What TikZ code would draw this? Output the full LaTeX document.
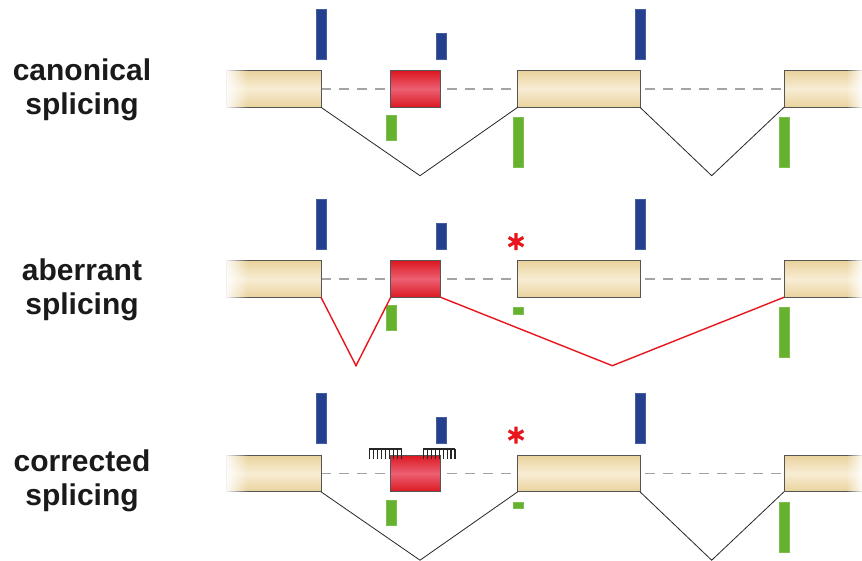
\documentclass[tikz,border=0pt]{standalone}
\usepackage{fontspec}
\setmainfont{Liberation Sans}
\usetikzlibrary{positioning}
\usetikzlibrary{fadings}
\usetikzlibrary{backgrounds}

\definecolor{exontan}{HTML}{E9D29D}
\definecolor{exonlight}{HTML}{F8EDD4}
\definecolor{boxline}{HTML}{555555}
\definecolor{cryptred}{HTML}{DC1822}
\definecolor{cryptpink}{HTML}{EC6072}
\definecolor{donorblue}{HTML}{25408F}
\definecolor{acceptgreen}{HTML}{66B22E}
\definecolor{splicered}{HTML}{E8161C}
\definecolor{introngrey}{HTML}{A3A3A3}
\definecolor{labeltext}{HTML}{1A1A1A}

\tikzfading[name=fadeoutleft, left color=transparent!0, right color=transparent!100]
\tikzfading[name=fadeoutright, left color=transparent!100, right color=transparent!0]

\tikzset{
	exon/.style={draw=boxline, line width=0.8pt, minimum height=36.6pt, inner sep=0pt, outer sep=0pt,
		top color=exontan, bottom color=exontan, middle color=exonlight},
	crypt/.style={exon, minimum width=50pt, top color=cryptred, bottom color=cryptred, middle color=cryptpink},
	donor/.style={fill=donorblue, draw=donorblue!85!white, line width=0.4pt, minimum width=10pt, inner sep=0pt},
	acceptor/.style={fill=acceptgreen, draw=acceptgreen!85!white, line width=0.4pt, minimum width=10pt, inner sep=0pt},
	intron/.style={introngrey, line width=1.2pt, dash pattern=on 10pt off 8pt},
	splice/.style={black!85, line width=0.8pt},
	aberrant/.style={splicered, line width=1.4pt},
	mutation/.style={splicered, line width=3.2pt},
	oligo/.style={black!85, line width=1.1pt},
	rowlabel/.style={align=center, text=labeltext, font=\fontsize{30}{34}\selectfont\bfseries}
}

\begin{document}
\begin{tikzpicture}[x=1pt, y=-1pt]
	\useasboundingbox (0,0) rectangle (862,561);
	\begin{scope}[on background layer]
		\fill[white] (0,0) rectangle (862,561);
	\end{scope}

	% three copies of the same gene
	\foreach \row/\dy/\gh in {A/0/50, B/190/6.5, C/384.5/6.5} {
		\node[exon, minimum width=95pt] (exI\row) at (273.5,{89+\dy}) {};
		\node[crypt] (crypt\row) at (415.7,{89+\dy}) {};
		\node[exon, minimum width=122.3pt] (exII\row) at (578.85,{89+\dy}) {};
		\node[exon, minimum width=86pt] (exIII\row) at (827,{89+\dy}) {};
		\begin{scope}[on background layer]
			\draw[intron] (exI\row.east) -- (exIII\row.west);
		\end{scope}
		\fill[white, path fading=fadeoutleft] (224,{68+\dy}) rectangle (248,{110+\dy});
		\fill[white, path fading=fadeoutright] (846,{68+\dy}) rectangle (864,{110+\dy});

		% splice donors
		\node[donor, minimum height=50pt, above=11.4pt of exI\row.north east] (donI\row) {};
		\node[donor, minimum height=26pt, above=11.4pt of crypt\row.north east] (donC\row) {};
		\node[donor, minimum height=50pt, above=11.4pt of exII\row.north east] (donII\row) {};

		% splice acceptors
		\node[acceptor, minimum height=25pt, below=7.7pt of crypt\row.south west] (accC\row) {};
		\node[acceptor, minimum height=\gh pt, below=10pt of exII\row.south west] (accII\row) {};
		\node[acceptor, minimum height=50pt, below=10pt of exIII\row.south west] (accIII\row) {};
	}

	\node[rowlabel] (labA) at (82,90) {canonical\\splicing};
	\node[rowlabel] (labB) at (82,290) {aberrant\\splicing};
	\node[rowlabel] (labC) at (82,481) {corrected\\splicing};

	% canonical
	\coordinate (vA1) at (420,175.7);
	\coordinate (vA2) at (711.7,175.7);
	\draw[splice] (exIA.south east) -- (vA1) -- (exIIA.south west);
	\draw[splice] (exIIA.south east) -- (vA2) -- (exIIIA.south west);

	% aberrant
	\coordinate (vB1) at (356,365.7);
	\coordinate (vB2) at (612.3,365.7);
	\draw[aberrant] (exIB.south east) -- (vB1) -- (cryptB.south west);
	\draw[aberrant] (cryptB.south east) -- (vB2) -- (exIIIB.south west);

	% corrected
	\coordinate (vC1) at (420,560.2);
	\coordinate (vC2) at (711.7,560.2);
	\draw[splice] (exIC.south east) -- (vC1) -- (exIIC.south west);
	\draw[splice] (exIIC.south east) -- (vC2) -- (exIIIC.south west);

	% mutations
	\coordinate (astB) at (516,241.7);
	\coordinate (astC) at (516,435);
	\foreach \p in {astB, astC}
		\draw[mutation, shift={(\p)}] (90:8.5) -- (270:8.5) (30:8.5) -- (210:8.5) (-30:8.5) -- (150:8.5);

	% blocking oligos
	\draw[oligo] (369.3,449) -- (401.7,449);
	\draw[oligo] (423.3,449) -- (455,449);
	\foreach \t in {0,...,8} {
		\draw[oligo] ({369.3+4.05*\t},449) -- ++(0,10);
		\draw[oligo] ({423.3+3.96*\t},449) -- ++(0,10);
	}
\end{tikzpicture}
\end{document}
